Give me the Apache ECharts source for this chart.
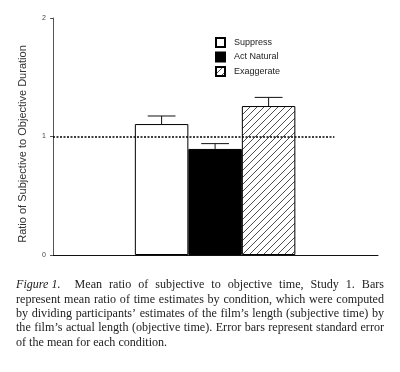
<!DOCTYPE html>
<html><head><meta charset="utf-8">
<script src="https://cdn.jsdelivr.net/npm/echarts@6/dist/echarts.min.js"></script>
<style>html,body{margin:0;padding:0;background:#fff}#c{width:400px;height:372px}</style>
</head><body><div id="c"></div>
<script>
// ---- data ----
const categories = ['Suppress', 'Act Natural', 'Exaggerate'];
const means = [1.105, 0.895, 1.257];
const stdErrors = [0.068, 0.045, 0.073];
const yTickValues = [0, 1, 2];
const referenceValue = 1;
const yAxisTitle = 'Ratio of Subjective to Objective Duration';
const captionLabel = 'Figure 1.';
const captionLines = [
  'Mean ratio of subjective to objective time, Study 1. Bars',
  'represent mean ratio of time estimates by condition, which were computed',
  'by dividing participants\u2019 estimates of the film\u2019s length (subjective time) by',
  'the film\u2019s actual length (objective time). Error bars represent standard error',
  'of the mean for each condition.'
];

// ---- layout / style ----
const xMin = -2.03, xMax = 4.045, refLineEnd = 3.23;
const barW = 53.5;
const capUnits = 0.52;
const capFont = 'Liberation Serif', capSize = 12.1;
const capLeft = 16, capRight = 384, capTop = 285, capLH = 14.4;

function hatch() {
  const s = 7, c = document.createElement('canvas');
  c.width = s; c.height = s;
  const g = c.getContext('2d');
  g.fillStyle = '#fff'; g.fillRect(0, 0, s, s);
  g.strokeStyle = '#222'; g.lineWidth = 0.8;
  g.beginPath();
  g.moveTo(0, s); g.lineTo(s, 0);
  g.moveTo(-1, 1); g.lineTo(1, -1);
  g.moveTo(s - 1, s + 1); g.lineTo(s + 1, s - 1);
  g.stroke();
  return c;
}
const fills = ['#fff', '#000', { image: hatch(), repeat: 'repeat' }];

// caption: word-level justification
const measure = document.createElement('canvas').getContext('2d');
function w(text, italic) {
  measure.font = (italic ? 'italic ' : '') + capSize + 'px "' + capFont + '"';
  return measure.measureText(text).width;
}
const graphics = [];
captionLines.forEach((line, li) => {
  const tokens = line.split(' ').map(t => ({ t, it: false, spaces: 1 }));
  if (li === 0) {
    tokens.unshift({ t: captionLabel, it: true, spaces: 2 });
  }
  const y = capTop + li * capLH;
  const spaceW = w(' ', false);
  const last = li === captionLines.length - 1;
  let total = 0, spaceCount = 0;
  tokens.forEach((tk, i) => { total += w(tk.t, tk.it); if (i < tokens.length - 1) { total += spaceW * tk.spaces; spaceCount += tk.spaces; } });
  const extra = last ? 0 : (capRight - capLeft - total) / spaceCount;
  let x = capLeft;
  tokens.forEach((tk) => {
    graphics.push({
      type: 'text', x: x, y: y, silent: true,
      style: { text: tk.t, fontFamily: capFont, fontSize: capSize, fontStyle: tk.it ? 'italic' : 'normal', fill: '#222', verticalAlign: 'middle' }
    });
    x += w(tk.t, tk.it) + (spaceW + extra) * tk.spaces;
  });
});

const series = categories.map((name, i) => ({
  name: name, type: 'bar', barWidth: barW, barGap: '-100%',
  data: [[i, means[i]]],
  itemStyle: { color: fills[i], borderColor: '#000', borderWidth: 1 },
  emphasis: { disabled: true },
  z: 2
}));
series.push({
  name: 'SE', type: 'custom', z: 3, silent: true,
  data: categories.map((c, i) => [i, means[i], means[i] + stdErrors[i]]),
  renderItem: function (params, api) {
    const x = api.value(0);
    const p0 = api.coord([x, api.value(1)]);
    const p1 = api.coord([x, api.value(2)]);
    const half = api.size([capUnits, 0])[0] / 2;
    const st = { stroke: '#111', lineWidth: 1 };
    return { type: 'group', children: [
      { type: 'line', shape: { x1: p0[0], y1: p0[1], x2: p1[0], y2: p1[1] }, style: st },
      { type: 'line', shape: { x1: p1[0] - half, y1: p1[1], x2: p1[0] + half, y2: p1[1] }, style: st }
    ] };
  },
  markLine: {
    silent: true, symbol: 'none', label: { show: false },
    lineStyle: { color: '#000', type: [2, 1.5], width: 1.6 },
    data: [[{ coord: [xMin, referenceValue] }, { coord: [refLineEnd, referenceValue] }]]
  }
});

const chart = echarts.init(document.getElementById('c'), null, { renderer: 'canvas' });
chart.setOption({
  animation: false,
  backgroundColor: '#fff',
  grid: { left: 53, right: 22, top: 18, bottom: 117 },
  legend: {
    data: categories, orient: 'vertical', left: 215, top: 37, padding: 0,
    itemWidth: 9, itemHeight: 9, itemGap: 3.5, icon: 'rect',
    selectedMode: false,
    textStyle: { fontSize: 9, fontFamily: 'Liberation Sans', color: '#222', padding: [0, 0, 0, 4] }
  },
  xAxis: {
    type: 'value', min: xMin, max: xMax,
    axisLine: { show: true, onZero: false, lineStyle: { color: '#111', width: 1 } },
    axisTick: { show: false }, axisLabel: { show: false }, splitLine: { show: false }
  },
  yAxis: {
    type: 'value', min: yTickValues[0], max: yTickValues[yTickValues.length - 1], interval: 1,
    name: yAxisTitle, nameLocation: 'middle', nameGap: 25,
    nameTextStyle: { fontSize: 11, fontFamily: 'Liberation Sans', color: '#333', padding: [0, 15, 0, 0] },
    axisLine: { show: true, onZero: false, lineStyle: { color: '#555', width: 1 } },
    axisTick: { show: true, length: 3, lineStyle: { color: '#555' } },
    axisLabel: { fontSize: 7, fontFamily: 'Liberation Sans', color: '#444', margin: 7 },
    splitLine: { show: false }
  },
  series: series,
  graphic: graphics
});
</script></body></html>
